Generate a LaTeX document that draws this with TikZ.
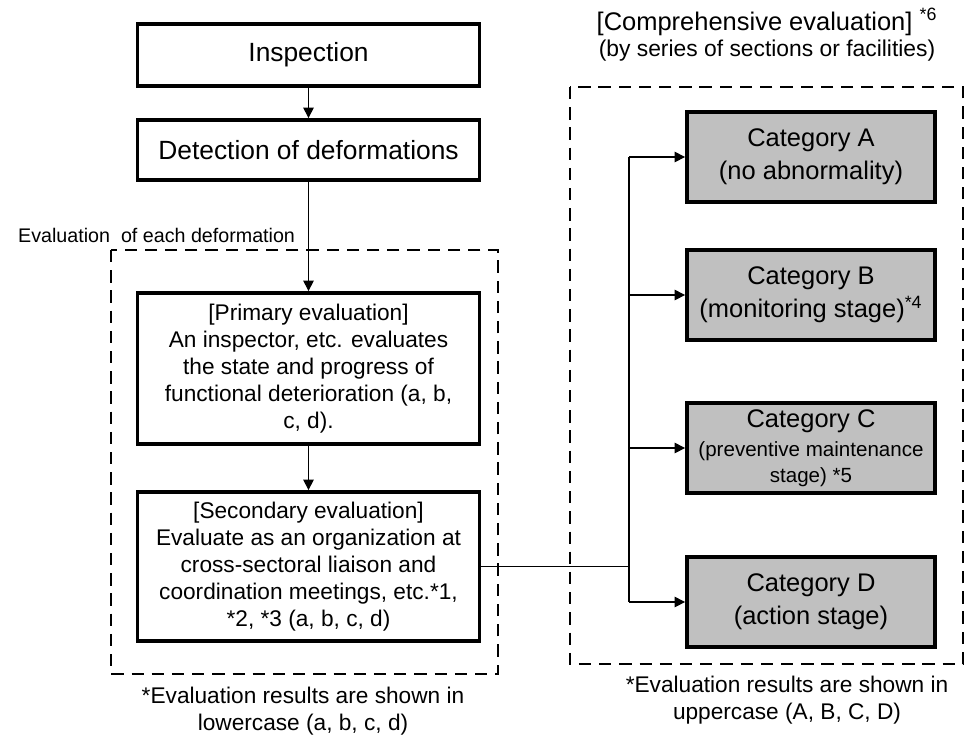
\documentclass[tikz,border=0pt]{standalone}
\usepackage{fontspec}
\setmainfont{Liberation Sans}
\usetikzlibrary{arrows.meta}
\definecolor{catgray}{RGB}{192,192,192}

\tikzset{
	stagebox/.style={draw, line width=2.2pt, fill=white, align=center, inner sep=0pt, minimum width=6.84cm},
	catbox/.style={draw, line width=2.2pt, fill=catgray, align=center, inner sep=0pt,
		minimum width=4.96cm, minimum height=1.8cm, font=\fontsize{14.5}{18.7}\selectfont},
	frame/.style={line width=1.6pt, dash pattern=on 7pt off 4.5pt},
	link/.style={line width=0.7pt},
	arr/.style={link, -{Triangle[length=6pt,width=6pt]}},
	note/.style={align=center, font=\fontsize{12.9}{15.3}\selectfont}
}

\begin{document}
\begin{tikzpicture}[x=0.02cm, y=-0.02cm]% {{{ flow
	\useasboundingbox (0,0) rectangle (966,738);

	% left: each deformation
	\draw[frame] (111,250) rectangle (498,674);
	\node[anchor=west, font=\fontsize{11.2}{13}\selectfont] (evallabel) at (12,235){Evaluation\ \ of each deformation};

	\node[stagebox, minimum height=1.24cm, font=\fontsize{15}{18}\selectfont] (insp) at (308.5,55){Inspection};
	\node[stagebox, minimum height=1.2cm, font=\fontsize{15}{18}\selectfont] (detect) at (308.5,150){Detection of deformations};
	\node[stagebox, minimum height=3.02cm, font=\fontsize{12.9}{15.4}\selectfont] (primary) at (308.5,368.5){[Primary evaluation]\\An inspector, etc. evaluates\\the state and progress of\\functional deterioration (a, b,\\c, d).};
	\node[stagebox, minimum height=2.98cm, font=\fontsize{12.9}{15.4}\selectfont] (secondary) at (308.5,566.5){[Secondary evaluation]\\Evaluate as an organization at\\cross-sectoral liaison and\\coordination meetings, etc.*1,\\*2, *3 (a, b, c, d)};

	\draw[arr] (insp) -- (detect);
	\draw[arr] (detect) -- (primary);
	\draw[arr] (primary) -- (secondary);

	\node[note] (lnote) at (303,711){*Evaluation results are shown in\\lowercase (a, b, c, d)};

	% right: comprehensive evaluation
	\draw[frame] (570,87) rectangle (963,664);
	\node[font=\fontsize{14.5}{17}\selectfont] (header) at (767,22){[Comprehensive evaluation] \textsuperscript{*6}};
	\node[font=\fontsize{13}{15}\selectfont] (subheader) at (767,51){(by series of sections or facilities)};

	\node[catbox] (catA) at (811,157){Category A\\(no abnormality)};
	\node[catbox] (catB) at (811,295){Category B\\(monitoring stage)\textsuperscript{*4}};
	\node[catbox] (catC) at (811,448){Category C\\[-2pt]{\fontsize{11.7}{14.7}\selectfont (preventive maintenance}\\[-4pt]{\fontsize{11.7}{14.7}\selectfont stage) *5}};
	\node[catbox] (catD) at (811,602){Category D\\(action stage)};

	\coordinate (trunk) at (629,0);
	\draw[link] (secondary.east) -- (trunk |- secondary.east);
	\draw[link] (trunk |- catA) -- (trunk |- catD);
	\foreach \cat in {catA,catB,catC,catD}
		\draw[arr] (trunk |- \cat) -- (\cat.west);

	\node[note] (rnote) at (787,700){*Evaluation results are shown in\\uppercase (A, B, C, D)};
\end{tikzpicture}% }}}
\end{document}
